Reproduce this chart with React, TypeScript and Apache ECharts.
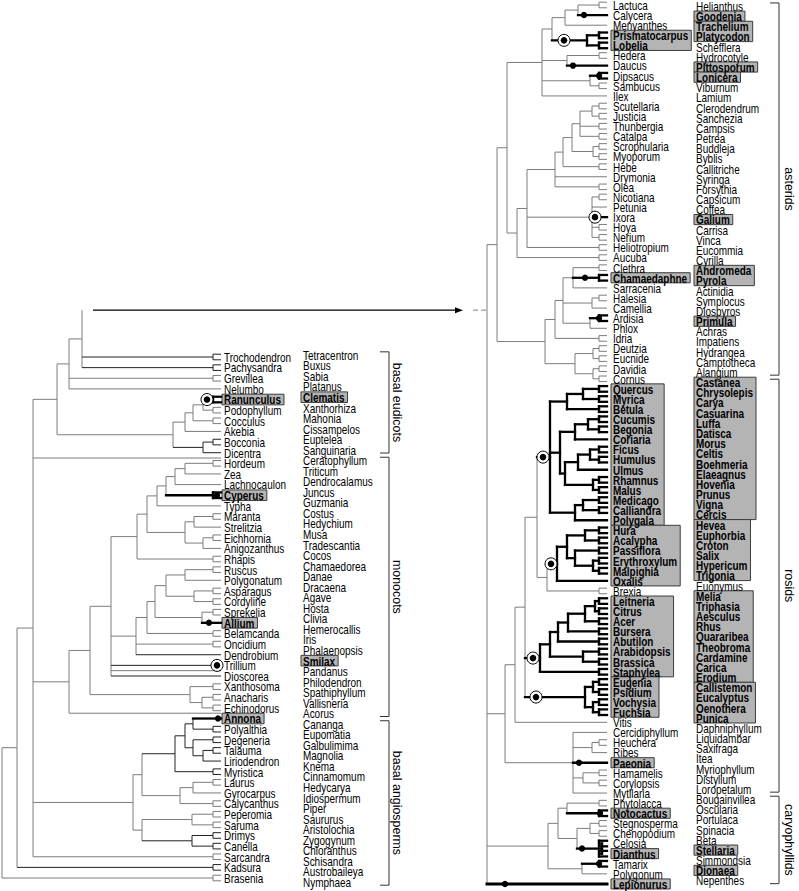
import React, { useEffect, useRef } from 'react';
import * as echarts from 'echarts';

// ---------- DATA ----------
const leftTaxa = ['Trochodendron','Pachysandra','Grevillea','Nelumbo','Ranunculus','Podophyllum','Cocculus','Akebia','Bocconia','Dicentra','Hordeum','Zea','Lachnocaulon','Cyperus','Typha','Maranta','Strelitzia','Eichhornia','Anigozanthus','Rhapis','Ruscus','Polygonatum','Asparagus','Cordyline','Sprekelia','Allium','Belamcanda','Oncidium','Dendrobium','Trillium','Dioscorea','Xanthosoma','Anacharis','Echinodorus','Annona','Polyalthia','Degeneria','Talauma','Liriodendron','Myristica','Laurus','Gyrocarpus','Calycanthus','Peperomia','Saruma','Drimys','Canella','Sarcandra','Kadsura','Brasenia'];

const leftSisters = ['Tetracentron','Buxus','Sabia','Platanus','Clematis','Xanthorhiza','Mahonia','Cissampelos','Euptelea','Sanguinaria','Ceratophyllum','Triticum','Dendrocalamus','Juncus','Guzmania','Costus','Hedychium','Musa','Tradescantia','Cocos','Chamaedorea','Danae','Dracaena','Agave','Hosta','Clivia','Hemerocallis','Iris','Phalaenopsis','Smilax','Pandanus','Philodendron','Spathiphyllum','Vallisneria','Acorus','Cananga','Eupomatia','Galbulimima','Magnolia','Knema','Cinnamomum','Hedycarya','Idiospermum','Piper','Saururus','Aristolochia','Zygogynum','Chloranthus','Schisandra','Austrobaileya','Nymphaea'];

const rightTaxa = ['Lactuca','Calycera','Menyanthes','Prismatocarpus','Lobelia','Hedera','Daucus','Dipsacus','Sambucus','Ilex','Scutellaria','Justicia','Thunbergia','Catalpa','Scrophularia','Myoporum','Hebe','Drymonia','Olea','Nicotiana','Petunia','Ixora','Hoya','Nerium','Heliotropium','Aucuba','Clethra','Chamaedaphne','Sarracenia','Halesia','Camellia','Ardisia','Phlox','Idria','Deutzia','Eucnide','Davidia','Cornus','Quercus','Myrica','Betula','Cucumis','Begonia','Coriaria','Ficus','Humulus','Ulmus','Rhamnus','Malus','Medicago','Calliandra','Polygala','Hura','Acalypha','Passiflora','Erythroxylum','Malpighia','Oxalis','Brexia','Leitneria','Citrus','Acer','Bursera','Abutilon','Arabidopsis','Brassica','Staphylea','Eugenia','Psidium','Vochysia','Fuchsia','Vitis','Cercidiphyllum','Heuchera','Ribes','Paeonia','Hamamelis','Corylopsis','Mytilaria','Phytolacca','Notocactus','Stegnosperma','Chenopodium','Celosia','Dianthus','Tamarix','Polygonum','Lepionurus'];

const rightSisters = ['Helianthus','Goodenia','Trachelium','Platycodon','Schefflera','Hydrocotyle','Pittosporum','Lonicera','Viburnum','Lamium','Clerodendrum','Sanchezia','Campsis','Petrea','Buddleja','Byblis','Callitriche','Syringa','Forsythia','Capsicum','Coffea','Galium','Carrisa','Vinca','Eucommia','Cyrilla','Andromeda','Pyrola','Actinidia','Symplocus','Diospyros','Primula','Achras','Impatiens','Hydrangea','Camptotheca','Alangium','Castanea','Chrysolepis','Carya','Casuarina','Luffa','Datisca','Morus','Celtis','Boehmeria','Elaeagnus','Hovenia','Prunus','Vigna','Cercis','Hevea','Euphorbia','Croton','Salix','Hypericum','Trigonia','Euonymus','Melia','Triphasia','Aesculus','Rhus','Quararibea','Theobroma','Cardamine','Carica','Erodium','Callistemon','Eucalyptus','Oenothera','Punica','Daphniphyllum','Liquidambar','Saxifraga','Itea','Myriophyllum','Distylium','Loropetalum','Bougainvillea','Oscularia','Portulaca','Spinacia','Beta','Stellaria','Simmondsia','Dionaea','Nepenthes'];

// Tree topology (Newick-like). Number after ")" = node depth; {f}=forked tip, {b}=bold, {k}=dark, {B}=extra bold, dNNN=dot at depth, rNNN=ring at depth
const leftEudicots = '(((>,Trochodendron{f,k},Pachysandra{f,k})82,Grevillea{f},Nelumbo)69,((((Ranunculus{f,b,r207},Podophyllum{f})203,Cocculus{f})193,Akebia)185,(Bocconia{f},Dicentra)203{k})173)57';
const leftCommelinids = '((((((Hordeum{f},Zea)185,Lachnocaulon)175,Cyperus{f,b,d217})166,Typha)157,((Maranta{f},Strelitzia)194,(Eichhornia{f},Anigozanthus)203)185)147,Rhapis{f})137';
const leftAsparagales = '(((((Ruscus{f},Polygonatum)185,(Asparagus{f},Cordyline{f})194)166,(Sprekelia{f},Allium{b,d209})202)155,Belamcanda{f})147,Oncidium{f},Dendrobium{k})136';
const leftMonocots = '(((' + leftCommelinids + ',' + leftAsparagales + ',Trillium{f,k,r217},~Pandanus,Dioscorea{k})111,(Xanthosoma{f},(Anacharis{f},Echinodorus{f})202)190)90,~Acorus)69';
const leftMagnoliids = '(((((Annona{b,d218},Polyalthia{f})193,(Degeneria{f},(Talauma{f},Liriodendron)203)193)185,Myristica{f})175{k},((Laurus{f},Gyrocarpus)193,Calycanthus{f})180)142,((Peperomia{f},Saruma{f})192,(Drimys{f},Canella{f})192{k})142)133';
const leftTree = '(((' + leftEudicots + ',~Ceratophyllum,' + leftMonocots + ',' + leftMagnoliids + ',Sarcandra{f})33,Kadsura{f,k})17,Brasenia{f})2';

const rightCampanulids = '((((Lactuca{f},Calycera{b,d584})578,Menyanthes)565,(Prismatocarpus{f},Lobelia{f})587{b,r564})552,(Hedera{f},Daucus{b,d573})567,(Dipsacus{f,b,d599},Sambucus{f})590,Ilex)542';
const rightLamiales = '(((((Scutellaria{f},Justicia{f})592,Thunbergia{f},Catalpa{f})580,(Scrophularia{f},Myoporum{f})593)572,Hebe{f})563,Drymonia,Olea{f})555';
const rightLamiids = '((' + rightLamiales + ',(Nicotiana{f},Petunia,Ixora{b,r595},Hoya{f},Nerium{f})592,Heliotropium{f})527,Aucuba{f})517';
const rightEricales = '(((Clethra{f},Chamaedaphne{f,b,d585},Sarracenia)573,(Halesia{f},Camellia)592,(Ardisia{f,b,d599},Phlox)590)563,Idria{f})555';
const rightCornales = '((Deutzia{f},Eucnide{f})593,(Davidia{f},Cornus{f})593)575';
const rightAsterids = '((' + rightCampanulids + ',' + rightLamiids + ')507,(' + rightEricales + ',' + rightCornales + ')545)497';
const rightFabidsA = '(((Quercus{f},Myrica{f})583,Betula{f})567,(((Cucumis{f},Begonia{f})588,Coriaria)575,(((Ficus{f},Humulus{f})590,Ulmus)578,(Rhamnus{f},Malus{f})593)565)560,((Medicago{f},Calliandra{f})583,Polygala)575)550{b,r543}';
const rightMalpighiales = '(((Hura{f},Acalypha{f})585,(Passiflora{f},(Erythroxylum{f},Malpighia{f})593)575)567,Oxalis)557{b,r551}';
const rightMalvids = '((((((Leitneria{f},Citrus{f})595,Acer{f})585,Bursera{f})568,Abutilon{f})558,(Arabidopsis{f},Brassica{f})583)550,Staphylea{f})540{b,r533}';
const rightMyrtales = '((Eugenia{f},Psidium{f})593,(Vochysia{f},Fuchsia{f})593)585{b,r536}';
const rightSaxifragales = '(Cercidiphyllum,(Heuchera{f},Ribes)592,Paeonia{b,d579},(Hamamelis{f},Corylopsis{f})583,Mytilaria)573';
const rightRosids = '((((' + rightFabidsA + ',(' + rightMalpighiales + ',Brexia{f})547)537,' + rightMalvids + ',' + rightMyrtales + ')525,Vitis)515,' + rightSaxifragales + ')505';
const rightCaryophyllids = '(((Phytolacca{f},Notocactus{f,b,d600})567,((Stegnosperma{f},Chenopodium{f})590,(Celosia{f},Dianthus{f})602{b,d582})577)558,(Tamarix{f,b,d599},Polygonum)582)548';
const rightTree = '(' + rightAsterids + ',' + rightRosids + ',' + rightCaryophyllids + ',Lepionurus{B,d505})487';

// highlighted (boxed) label groups: [first, last]
const leftBoxes = [['Ranunculus'], ['Cyperus'], ['Allium'], ['Annona']];
const leftSisterBoxes = [['Clematis'], ['Smilax']];
const rightBoxes = [['Prismatocarpus', 'Lobelia'], ['Chamaedaphne'], ['Quercus', 'Polygala'], ['Hura', 'Oxalis'], ['Leitneria', 'Staphylea'], ['Eugenia', 'Fuchsia'], ['Paeonia'], ['Notocactus'], ['Dianthus'], ['Lepionurus']];
const rightSisterBoxes = [['Goodenia'], ['Trachelium', 'Platycodon'], ['Pittosporum'], ['Lonicera'], ['Galium'], ['Andromeda', 'Pyrola'], ['Primula'], ['Castanea', 'Cercis'], ['Hevea', 'Trigonia'], ['Melia', 'Erodium'], ['Callistemon', 'Punica'], ['Stellaria'], ['Dionaea']];

const leftGroups = [['basal eudicots', 'Tetracentron', 'Sanguinaria'], ['monocots', 'Ceratophyllum', 'Acorus'], ['basal angiosperms', 'Cananga', 'Nymphaea']];
const rightGroups = [['asterids', 'Helianthus', 'Alangium'], ['rosids', 'Castanea', 'Loropetalum'], ['caryophyllids', 'Bougainvillea', 'Nepenthes']];

// ---------- helpers ----------
type TNode = { name?: string; x?: number; y?: number; children?: TNode[]; flags: Set<string>; dot?: number; ring?: number };

function parseTree(s: string): TNode {
  let i = 0;
  const ws = () => { while (i < s.length && /\s/.test(s[i])) i++; };
  const parseFlags = (n: TNode) => {
    ws();
    if (s[i] === '{') {
      i++;
      const j = s.indexOf('}', i);
      for (const raw of s.slice(i, j).split(',')) {
        const t = raw.trim();
        if (!t) continue;
        if (t[0] === 'd' && t.length > 1) n.dot = +t.slice(1);
        else if (t[0] === 'r' && t.length > 1) n.ring = +t.slice(1);
        else n.flags.add(t);
      }
      i = j + 1;
    }
  };
  const parseNode = (): TNode => {
    ws();
    const n: TNode = { flags: new Set() };
    if (s[i] === '(') {
      i++;
      n.children = [];
      for (;;) {
        n.children.push(parseNode());
        ws();
        if (s[i] === ',') { i++; continue; }
        if (s[i] === ')') { i++; break; }
        throw new Error('bad tree at ' + i);
      }
      ws();
      let num = '';
      while (i < s.length && /[0-9.]/.test(s[i])) num += s[i++];
      n.x = +num;
    } else {
      let name = '';
      while (i < s.length && /[A-Za-z~>]/.test(s[i])) name += s[i++];
      n.name = name;
    }
    parseFlags(n);
    return n;
  };
  return parseNode();
}

function layoutTree(src: string, rowOf: Record<string, number>, tip: number, forkW: number, fh: number, coreRow: number) {
  const root = parseTree(src);
  const leaves: TNode[] = [];
  const walk = (n: TNode) => { if (n.children) n.children.forEach(walk); else leaves.push(n); };
  walk(root);
  let prev = -1;
  for (const l of leaves) {
    if (l.name === '>') l.y = coreRow;
    else if (l.name!.startsWith('~')) l.y = prev + 0.5;
    else { l.y = rowOf[l.name!]; prev = l.y; }
  }
  const setY = (n: TNode) => {
    if (n.children) {
      n.children.forEach(setY);
      n.y = (n.children[0].y! + n.children[n.children.length - 1].y!) / 2;
    }
  };
  setY(root);
  const segs: number[][] = [];
  const marks: number[][] = [];
  const draw = (n: TNode, px: number | null, inh: number) => {
    const st = n.flags.has('B') ? 3 : n.flags.has('b') ? 2 : n.flags.has('k') ? 1 : n.flags.has('g') ? 0 : inh;
    const fork = n.flags.has('f');
    const end = n.children ? n.x! : (fork ? tip - forkW : tip);
    if (px !== null && n.name !== '>') segs.push([px, n.y!, end, n.y!, st]);
    if (n.children) {
      segs.push([n.x!, n.children[0].y!, n.x!, n.children[n.children.length - 1].y!, st]);
      n.children.forEach((c) => draw(c, n.x!, st));
    } else if (fork) {
      segs.push([end, n.y! - fh, end, n.y! + fh, st]);
      segs.push([end, n.y! - fh, tip, n.y! - fh, st]);
      segs.push([end, n.y! + fh, tip, n.y! + fh, st]);
    }
    if (n.dot !== undefined) marks.push([n.dot, n.y!, 0]);
    if (n.ring !== undefined) marks.push([n.ring, n.y!, 1]);
  };
  draw(root, null, 0);
  segs.sort((a, b) => a[4] - b[4]);
  return { root, segs, marks };
}

const FAMILY = '"Liberation Sans", Arial, Helvetica, sans-serif';
const FONT = '12px ' + FAMILY;
const BFONT = 'bold 12px ' + FAMILY;
const GFONT = '13.5px ' + FAMILY;
const SQUEEZE = 0.83; // narrow Helvetica look

const LINE_STYLES = [
  { color: '#7c7c7c', width: 1, cap: 'butt' },
  { color: '#222222', width: 1, cap: 'butt' },
  { color: '#000000', width: 2.3, cap: 'square' },
  { color: '#000000', width: 3, cap: 'square' },
];

function buildOption() {
  const LP = { top: 357, step: 10.633, tip: 221, forkW: 8, textX: 224, min: -5, max: 49 };
  const LS = { top: 355, step: 10.54, textX: 303, min: 0, max: 50 };
  const RP = { top: 5, step: 10.103, tip: 607, forkW: 8, textX: 613, min: 0, max: 87 };
  const RS = { top: 6, step: 10.17, textX: 696, min: 0, max: 86 };
  const CORE_ROW = -4.4;

  const idx = (arr: string[]) => Object.fromEntries(arr.map((n, i) => [n, i])) as Record<string, number>;
  const rowL = idx(leftTaxa), rowR = idx(rightTaxa);

  const L = layoutTree(leftTree, rowL, LP.tip, LP.forkW, 2.8 / LP.step, CORE_ROW);
  const R = layoutTree(rightTree, rowR, RP.tip, RP.forkW, 2.8 / RP.step, 0);

  const ctx = document.createElement('canvas').getContext('2d')!;
  const tw = (t: string, bold: boolean) => { ctx.font = bold ? BFONT : FONT; return ctx.measureText(t).width * SQUEEZE; };

  const panelGrid = (P: any, left: number, width: number) => ({
    left, width, top: P.top + P.min * P.step, height: (P.max - P.min) * P.step, outerBoundsMode: 'none',
  });
  const grid = [panelGrid(LP, 0, 470), panelGrid(LS, 0, 470), panelGrid(RP, 470, 329), panelGrid(RS, 470, 329)];
  const xAxis = [0, 1, 2, 3].map((g) => ({ type: 'value', gridIndex: g, show: false, min: g < 2 ? 0 : 470, max: g < 2 ? 470 : 799 }));
  const yAxis = [LP, LS, RP, RS].map((P, g) => ({ type: 'value', gridIndex: g, show: false, inverse: true, min: P.min, max: P.max }));

  const base = (g: number) => ({ type: 'custom', coordinateSystem: 'cartesian2d', xAxisIndex: g, yAxisIndex: g, silent: true, animation: false, clip: false });

  const segSeries = (g: number, segs: number[][]) => ({
    ...base(g), z: 3, data: segs,
    renderItem: (_p: any, api: any) => {
      const a = api.coord([api.value(0), api.value(1)]);
      const b = api.coord([api.value(2), api.value(3)]);
      const st = LINE_STYLES[api.value(4)];
      return { type: 'line', shape: { x1: a[0], y1: a[1], x2: b[0], y2: b[1] }, style: { stroke: st.color, lineWidth: st.width, lineCap: st.cap } };
    },
  });

  const markSeries = (g: number, marks: number[][]) => ({
    ...base(g), z: 4, data: marks,
    renderItem: (_p: any, api: any) => {
      const c = api.coord([api.value(0), api.value(1)]);
      if (api.value(2) === 1) {
        return { type: 'group', children: [
          { type: 'circle', shape: { cx: c[0], cy: c[1], r: 6 }, style: { fill: '#ffffff', stroke: '#000', lineWidth: 1 } },
          { type: 'circle', shape: { cx: c[0], cy: c[1], r: 3.3 }, style: { fill: '#000' } },
        ] };
      }
      return { type: 'circle', shape: { cx: c[0], cy: c[1], r: 3.2 }, style: { fill: '#000' } };
    },
  });

  const boldSet = (groups: string[][], arr: string[]) => {
    const s = new Set<string>();
    for (const gset of groups) {
      const a = arr.indexOf(gset[0]);
      const b = arr.indexOf(gset[gset.length - 1]);
      for (let k = a; k <= b; k++) s.add(arr[k]);
    }
    return s;
  };

  const textSeries = (g: number, arr: string[], x: number, bolds: Set<string>) => {
    const items = arr.map((t, i) => ({ t, i, b: bolds.has(t) }));
    return {
      ...base(g), z: 6, data: items.map((d) => [x, d.i]),
      renderItem: (p: any, api: any) => {
        const d = items[p.dataIndex];
        const c = api.coord([x, d.i]);
        return { type: 'text', x: c[0], y: c[1] + 0.5, scaleX: SQUEEZE, style: { text: d.t, fill: '#000', font: d.b ? BFONT : FONT, align: 'left', verticalAlign: 'middle' } };
      },
    };
  };

  const boxSeries = (g: number, groups: string[][], arr: string[], x: number) => {
    const boxes = groups.map((gs) => {
      const a = arr.indexOf(gs[0]);
      const b = arr.indexOf(gs[gs.length - 1]);
      let w = 0;
      for (let k = a; k <= b; k++) w = Math.max(w, tw(arr[k], true));
      return { x0: x - 2, x1: x + w + 3, r0: a - 0.5, r1: b + 0.5 };
    });
    return {
      ...base(g), z: 2, data: boxes.map((b) => [b.x0, b.r0]),
      renderItem: (p: any, api: any) => {
        const b = boxes[p.dataIndex];
        const c0 = api.coord([b.x0, b.r0]);
        const c1 = api.coord([b.x1, b.r1]);
        return { type: 'rect', shape: { x: c0[0], y: c0[1], width: c1[0] - c0[0], height: c1[1] - c0[1] }, style: { fill: '#b4b4b4', stroke: '#3c3c3c', lineWidth: 1 } };
      },
    };
  };

  const bracketSeries = (g: number, groups: string[][], arr: string[], bx: number, lx: number) => {
    const items = groups.map(([label, f, l]) => ({ label, r0: arr.indexOf(f) - 0.3, r1: arr.indexOf(l) + 0.3 }));
    return {
      ...base(g), z: 5, data: items.map((d) => [bx, d.r0]),
      renderItem: (p: any, api: any) => {
        const d = items[p.dataIndex];
        const a = api.coord([bx, d.r0]);
        const b = api.coord([bx, d.r1]);
        const t = api.coord([lx, (d.r0 + d.r1) / 2]);
        return { type: 'group', children: [
          { type: 'polyline', shape: { points: [[a[0] - 9, a[1]], a, b, [b[0] - 9, b[1]]] }, style: { stroke: '#333', lineWidth: 1, fill: 'none' } },
          { type: 'text', x: t[0], y: t[1], rotation: -Math.PI / 2, scaleX: 0.92, style: { text: d.label, font: GFONT, fill: '#000', align: 'center', verticalAlign: 'middle' } },
        ] };
      },
    };
  };

  const rootX = R.root.x!;
  const arrowSeries = {
    ...base(0), z: 5, data: [[93, CORE_ROW]],
    renderItem: (_p: any, api: any) => {
      const a = api.coord([93, CORE_ROW]);
      const b = api.coord([463, CORE_ROW]);
      const d0 = api.coord([473, CORE_ROW]);
      const d1 = api.coord([rootX, CORE_ROW]);
      return { type: 'group', children: [
        { type: 'line', shape: { x1: a[0], y1: a[1], x2: b[0] - 6, y2: b[1] }, style: { stroke: '#000', lineWidth: 1.3 } },
        { type: 'polygon', shape: { points: [[b[0], b[1]], [b[0] - 8, b[1] - 3], [b[0] - 8, b[1] + 3]] }, style: { fill: '#000' } },
        { type: 'line', shape: { x1: d0[0], y1: d0[1], x2: d1[0], y2: d1[1] }, style: { stroke: '#999', lineWidth: 1.3, lineDash: [5, 3] } },
      ] };
    },
  };

  const bL = boldSet(leftBoxes, leftTaxa);
  const bLS = boldSet(leftSisterBoxes, leftSisters);
  const bR = boldSet(rightBoxes, rightTaxa);
  const bRS = boldSet(rightSisterBoxes, rightSisters);

  const series = [
    boxSeries(0, leftBoxes, leftTaxa, LP.textX),
    boxSeries(1, leftSisterBoxes, leftSisters, LS.textX),
    boxSeries(2, rightBoxes, rightTaxa, RP.textX),
    boxSeries(3, rightSisterBoxes, rightSisters, RS.textX),
    segSeries(0, L.segs),
    segSeries(2, R.segs),
    markSeries(0, L.marks),
    markSeries(2, R.marks),
    arrowSeries,
    textSeries(0, leftTaxa, LP.textX, bL),
    textSeries(1, leftSisters, LS.textX, bLS),
    textSeries(2, rightTaxa, RP.textX, bR),
    textSeries(3, rightSisters, RS.textX, bRS),
    bracketSeries(1, leftGroups, leftSisters, 389, 398),
    bracketSeries(3, rightGroups, rightSisters, 779, 790),
  ];

  return { animation: false, backgroundColor: '#ffffff', grid, xAxis, yAxis, series };
}

export default function App() {
  const ref = useRef<HTMLDivElement>(null);
  useEffect(() => {
    const chart = echarts.init(ref.current!, null, { renderer: 'svg' });
    chart.setOption(buildOption() as any);
    return () => chart.dispose();
  }, []);
  return <div ref={ref} style={{ position: 'absolute', left: 0, top: 0, width: 799, height: 891, background: '#fff' }} />;
}
